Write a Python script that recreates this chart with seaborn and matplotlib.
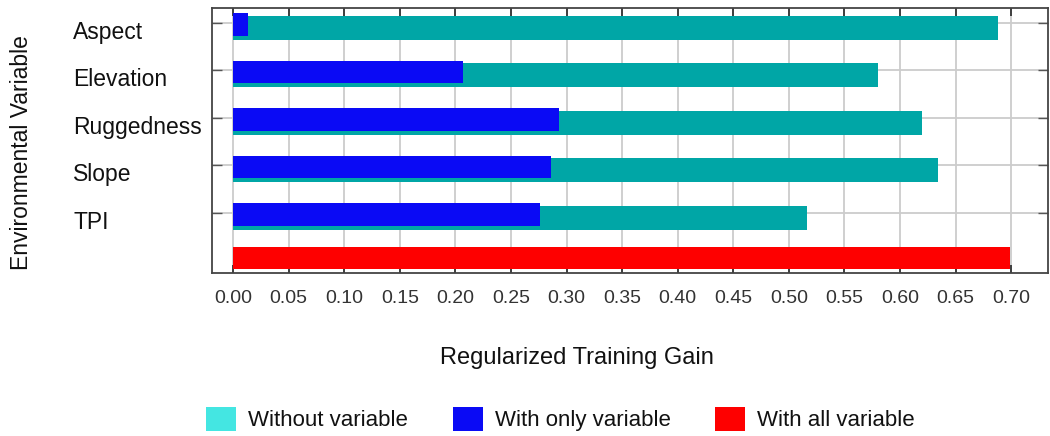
import matplotlib
matplotlib.use("Agg")
import matplotlib.pyplot as plt
from matplotlib.patches import Patch
import pandas as pd
import seaborn as sns

# Jackknife of regularized training gain per environmental variable
variables = ["Aspect", "Elevation", "Ruggedness", "Slope", "TPI"]
gain_without = [0.688, 0.580, 0.620, 0.634, 0.516]
gain_only = [0.013, 0.207, 0.293, 0.286, 0.276]
gain_all = [0.699]
x_ticks = [0.00, 0.05, 0.10, 0.15, 0.20, 0.25, 0.30, 0.35,
           0.40, 0.45, 0.50, 0.55, 0.60, 0.65, 0.70]
x_tick_labels = ["0.00", "0.05", "0.10", "0.15", "0.20", "0.25", "0.30", "0.35",
                 "0.40", "0.45", "0.50", "0.55", "0.60", "0.65", "0.70"]
legend_labels = ["Without variable", "With only variable", "With all variable"]

TEAL = "#00a6a6"
CYAN = "#44e6e2"
BLUE = "#0a0af5"
RED = "#fe0000"

sns.set_theme(style="white")
plt.rcParams["font.family"] = ["Liberation Sans", "DejaVu Sans"]

rows = variables + ["All"]
df_without = pd.DataFrame({"row": variables, "gain": gain_without})
df_only = pd.DataFrame({"row": variables, "gain": gain_only})
df_all = pd.DataFrame({"row": ["All"], "gain": gain_all})

fig = plt.figure(figsize=(10.5, 4.36), dpi=100)
ax = fig.add_axes([0.2019, 0.3739, 0.7961, 0.6078])


def shift_bars(bars, offset):
    for b in bars:
        b.set_y(b.get_y() + offset)


bar_kw = dict(x="gain", y="row", order=rows, orient="h", saturation=1,
              errorbar=None, linewidth=0, edgecolor="none", ax=ax)

n0 = len(ax.patches)
sns.barplot(data=df_without, color=TEAL, width=0.5, **bar_kw)
shift_bars(ax.patches[n0:], 0.10)

n0 = len(ax.patches)
sns.barplot(data=df_only, color=BLUE, width=0.47, **bar_kw)
shift_bars(ax.patches[n0:], 0.03)

n0 = len(ax.patches)
sns.barplot(data=df_all, color=RED, width=0.47, **bar_kw)
shift_bars(ax.patches[n0:], -0.05)

ax.set_xlim(-0.019, 0.733)
ax.set_ylim(5.263, -0.316)
ax.set_xlabel("")
ax.set_ylabel("")

ax.set_xticks(x_ticks)
ax.set_xticklabels(x_tick_labels)

# tick marks and grid at the row centres, names set slightly lower
row_pos = list(range(len(variables)))
ax.set_yticks(row_pos)
ax.set_yticklabels([])
ax.set_yticks([p + 0.14 for p in row_pos], minor=True)
ax.set_yticklabels(variables, minor=True)

ax.set_axisbelow(True)
ax.grid(True, which="major", color="#cccccc", linewidth=1.3)

ax.tick_params(axis="x", direction="in", top=True, bottom=True, length=6,
               width=1.3, color="#333333", labelsize=14, labelcolor="#333333",
               pad=12)
ax.tick_params(axis="y", which="major", direction="in", left=True, right=True,
               length=7, width=1.0, color="#555555")
ax.tick_params(axis="y", which="minor", left=True, right=False, length=0,
               labelsize=16.5, labelcolor="#111111", pad=100)
for lab in ax.get_yticklabels(minor=True):
    lab.set_horizontalalignment("left")

for sp in ax.spines.values():
    sp.set_color("#444444")
    sp.set_linewidth(1.3)

fig.text(22 / 1050, 1 - 153 / 436, "Environmental Variable", rotation=90,
         ha="center", va="center", fontsize=16.5, color="#111111")
fig.text(577 / 1050, 1 - 358 / 436, "Regularized Training Gain",
         ha="center", va="center", fontsize=17, color="#111111")

handles = [Patch(facecolor=c, edgecolor="none", label=l)
           for c, l in zip([CYAN, BLUE, RED], legend_labels)]
fig.legend(handles=handles, loc="center left",
           bbox_to_anchor=(206 / 1050, 1 - 419 / 436), ncol=3, frameon=False,
           fontsize=16, handlelength=1.35, handleheight=1.3,
           handletextpad=0.55, columnspacing=2.0, borderpad=0,
           borderaxespad=0, labelcolor="#111111")

fig.savefig("out.png", dpi=100)
